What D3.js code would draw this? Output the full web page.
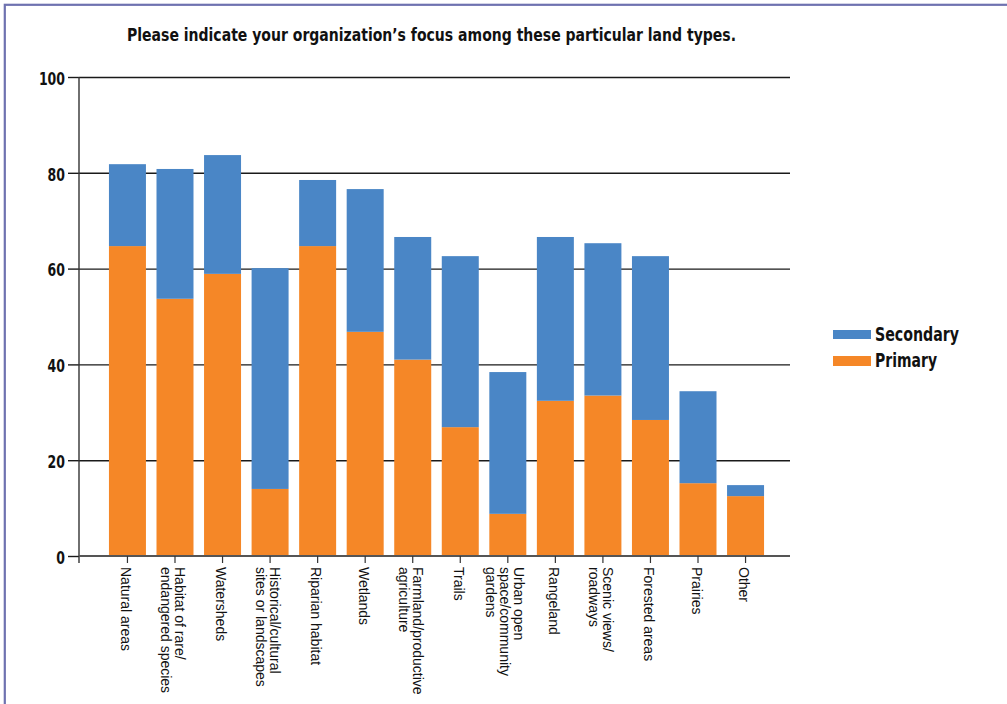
<!DOCTYPE html>
<html>
<head>
<meta charset="utf-8">
<script src="https://cdn.jsdelivr.net/npm/d3@7"></script>
<style>
  html, body { margin: 0; padding: 0; background: #ffffff; }
  svg { display: block; }
  .cond { font-family: "Liberation Sans Narrow", "Arial Narrow", "DejaVu Sans Condensed", sans-serif; font-stretch: condensed; }
  .lab { font-family: "Liberation Sans", Arial, sans-serif; }
</style>
</head>
<body>
<script>
// ---- data ----
const titleText = "Please indicate your organization\u2019s focus among these particular land types.";
const categories = [
  "Natural areas",
  "Habitat of rare/\nendangered species",
  "Watersheds",
  "Historical/cultural\nsites or landscapes",
  "Riparian habitat",
  "Wetlands",
  "Farmland/productive\nagriculture",
  "Trails",
  "Urban open\nspace/community\ngardens",
  "Rangeland",
  "Scenic views/\nroadways",
  "Forested areas",
  "Prairies",
  "Other"
];
const primary   = [64.7, 53.7, 58.9, 14.0, 64.7, 46.8, 41.0, 26.9, 8.8, 32.4, 33.5, 28.4, 15.2, 12.5];
const secondary = [17.1, 27.1, 24.8, 46.1, 13.8, 29.8, 25.6, 35.7, 29.6, 34.2, 31.8, 34.2, 19.2, 2.3];
const seriesNames = ["Primary", "Secondary"];
const seriesColors = ["#F58727", "#4A86C6"];
const yTicks = [0, 20, 40, 60, 80, 100];

// ---- layout ----
const W = 1007, H = 704;
const plotL = 79, plotR = 790, plotT = 77, plotB = 556;

const svg = d3.select("body").append("svg").attr("width", W).attr("height", H);

// frame
svg.append("rect").attr("x", 4.8).attr("y", 4.8).attr("width", W + 20).attr("height", H + 20)
  .attr("fill", "none").attr("stroke", "#6E72B0").attr("stroke-width", 2.2);

const x = d3.scaleBand().domain(categories).range([plotL, 794]).paddingInner(0.222).paddingOuter(0.63);
const y = d3.scaleLinear().domain([0, 100]).range([plotB, plotT]);

// gridlines
const grid = svg.append("g").attr("transform", `translate(${plotL},0)`)
  .call(d3.axisLeft(y).tickValues(yTicks.filter(d => d > 0)).tickSize(-(plotR - plotL)).tickFormat(""));
grid.select(".domain").remove();
grid.selectAll("line").attr("stroke", "#1a1a1a").attr("stroke-width", 1.4);

// stacked bars
const rows = categories.map((c, i) => ({ cat: c, Primary: primary[i], Secondary: secondary[i] }));
const stack = d3.stack().keys(seriesNames)(rows);
const color = d3.scaleOrdinal().domain(seriesNames).range(seriesColors);

svg.append("g").selectAll("g").data(stack).join("g")
  .attr("fill", d => color(d.key))
  .selectAll("rect").data(d => d).join("rect")
  .attr("x", d => x(d.data.cat))
  .attr("width", x.bandwidth())
  .attr("y", d => y(d[1]))
  .attr("height", d => y(d[0]) - y(d[1]));

// y axis
const yAxis = svg.append("g").attr("transform", `translate(${plotL},0)`)
  .call(d3.axisLeft(y).tickValues(yTicks).tickSize(11).tickSizeOuter(0).tickPadding(3));
yAxis.select(".domain").remove();
yAxis.selectAll(".tick line").attr("stroke", "#1a1a1a").attr("stroke-width", 1.4);
yAxis.selectAll(".tick text").attr("class", "cond").attr("font-size", 18).attr("font-weight", "bold")
  .attr("fill", "#111").attr("dy", "0.4em")
  .attr("textLength", d => String(d).length * 8.7).attr("lengthAdjust", "spacingAndGlyphs");
svg.append("line").attr("x1", plotL).attr("x2", plotL).attr("y1", plotT).attr("y2", 563)
  .attr("stroke", "#333").attr("stroke-width", 1.4);

// x axis
const xAxis = svg.append("g").attr("transform", `translate(0,${plotB})`)
  .call(d3.axisBottom(x).tickSize(7).tickSizeOuter(0).tickFormat(""));
xAxis.select(".domain").attr("d", `M${plotL},0H${plotR}`).attr("stroke", "#555").attr("stroke-width", 1.8);
xAxis.selectAll(".tick line").attr("stroke", "#333").attr("stroke-width", 1.2);

// x labels (rotated)
const lineH = 14;
const labG = svg.append("g");
categories.forEach(c => {
  const lines = c.split("\n");
  const n = lines.length;
  const off = n === 1 ? 1.5 : 2 + (n - 2);
  const b0 = off + 5 - (n - 1) * lineH / 2;
  const g = labG.append("g").attr("transform", `translate(${x(c) + x.bandwidth() / 2},567) rotate(90)`);
  const t = g.append("text").attr("class", "lab").attr("font-size", 14).attr("fill", "#111");
  lines.forEach((ln, k) => {
    t.append("tspan").attr("x", 0).attr("y", b0 + k * lineH).text(ln);
  });
});

// title
svg.append("text").attr("class", "cond").attr("x", 431.5).attr("y", 41)
  .attr("text-anchor", "middle").attr("font-size", 17).attr("font-weight", "bold").attr("fill", "#111")
  .attr("textLength", 609).attr("lengthAdjust", "spacingAndGlyphs")
  .text(titleText);

// legend
const legendItems = [
  { name: "Secondary", y: 330, h: 9, ty: 340.5, tw: 84 },
  { name: "Primary", y: 356, h: 10, ty: 367, tw: 62 }
];
const lg = svg.append("g");
legendItems.forEach(it => {
  lg.append("rect").attr("x", 833).attr("y", it.y).attr("width", 38).attr("height", it.h).attr("fill", color(it.name));
  lg.append("text").attr("class", "cond").attr("x", 875).attr("y", it.ty)
    .attr("font-size", 20).attr("font-weight", "bold").attr("fill", "#111")
    .attr("textLength", it.tw).attr("lengthAdjust", "spacingAndGlyphs").text(it.name);
});
</script>
</body>
</html>
